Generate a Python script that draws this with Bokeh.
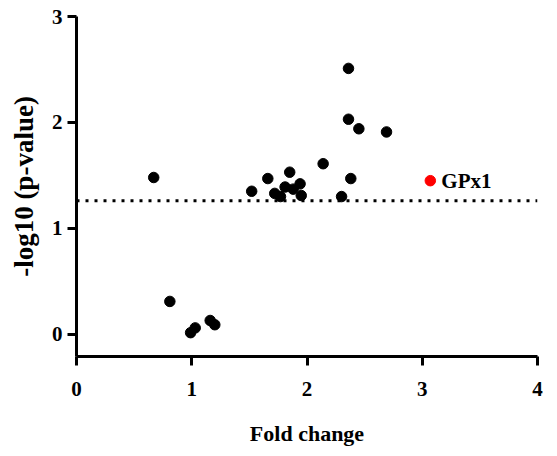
from bokeh.plotting import figure
from bokeh.models import Span, Label, FixedTicker, Range1d
from bokeh.embed import file_html
from bokeh.resources import INLINE

# Data
fold_change = [0.67, 1.52, 1.66, 1.85, 1.72, 1.77, 1.81, 1.88, 1.94, 1.95,
               2.14, 2.36, 2.36, 2.45, 2.69, 2.38, 2.30,
               0.81, 0.99, 1.03, 1.16, 1.20]
neg_log10_p = [1.48, 1.35, 1.47, 1.53, 1.33, 1.30, 1.39, 1.37, 1.42, 1.31,
               1.61, 2.51, 2.03, 1.94, 1.91, 1.47, 1.30,
               0.31, 0.015, 0.06, 0.13, 0.09]

hl_name = ["GPx1"]
hl_fold = [3.07]
hl_logp = [1.45]

threshold = 1.26
x_ticks = [0, 1, 2, 3, 4]
y_ticks = [0, 1, 2, 3]

FONT = "Liberation Serif"

p = figure(width=557, height=456, output_backend="svg", toolbar_location=None,
           x_range=Range1d(0, 4), y_range=Range1d(-0.21, 3),
           min_border_left=76, min_border_right=20,
           min_border_top=16, min_border_bottom=100)
p.outline_line_color = None
p.xgrid.visible = False
p.ygrid.visible = False
p.background_fill_color = "white"
p.border_fill_color = "white"

for ax in (p.xaxis[0], p.yaxis[0]):
    ax.axis_line_width = 3
    ax.axis_line_color = "black"
    ax.major_tick_line_width = 3
    ax.major_tick_line_color = "black"
    ax.major_tick_out = 9
    ax.major_tick_in = 0
    ax.minor_tick_line_color = None
    ax.major_label_text_font = FONT
    ax.major_label_text_font_style = "bold"
    ax.major_label_text_font_size = "21px"
    ax.major_label_text_color = "black"
    ax.axis_label_text_font = FONT
    ax.axis_label_text_font_style = "bold"
    ax.axis_label_text_color = "black"

p.xaxis[0].ticker = FixedTicker(ticks=x_ticks)
p.yaxis[0].ticker = FixedTicker(ticks=y_ticks)
p.xaxis[0].axis_label = "Fold change"
p.yaxis[0].axis_label = "-log10 (p-value)"
p.xaxis[0].axis_label_text_font_size = "22px"
p.yaxis[0].axis_label_text_font_size = "27px"
p.xaxis[0].major_label_standoff = 16
p.yaxis[0].major_label_standoff = 5
p.xaxis[0].axis_label_standoff = 22
p.yaxis[0].axis_label_standoff = 10

p.add_layout(Span(location=threshold, dimension="width", line_color="black",
                  line_width=3, line_dash="3 6"))

p.scatter(fold_change, neg_log10_p, size=10.5, color="black")
p.scatter(hl_fold, hl_logp, size=10.5, color="red")

for name, xv, yv in zip(hl_name, hl_fold, hl_logp):
    p.add_layout(Label(x=xv, y=yv, text=name, x_offset=11, y_offset=0,
                       text_baseline="middle", text_font=FONT,
                       text_font_style="bold", text_font_size="21px",
                       text_color="black"))

open("out.html", "w").write(file_html(p, INLINE))
